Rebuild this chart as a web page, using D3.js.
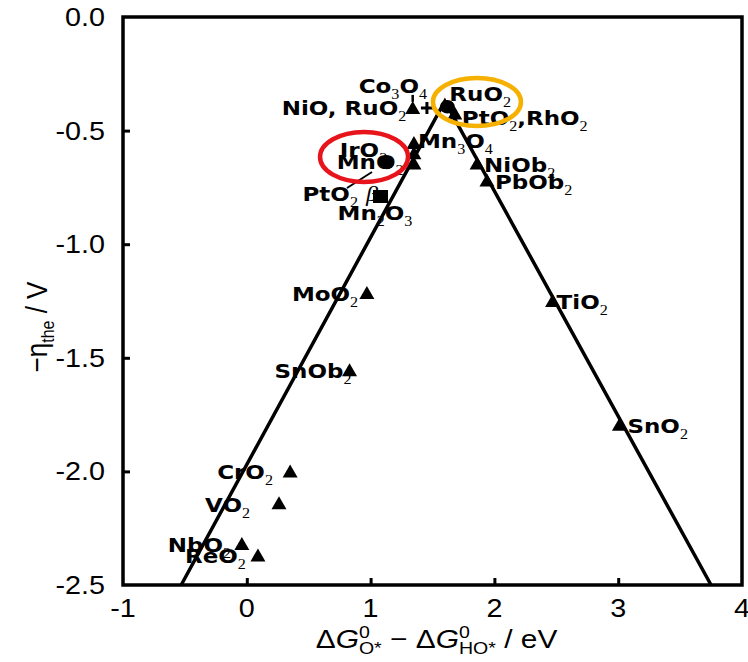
<!DOCTYPE html>
<html><head><meta charset="utf-8">
<script src="https://cdn.jsdelivr.net/npm/d3@7"></script>
<style>body{margin:0;background:#fff}svg{display:block}text{white-space:pre}</style>
</head><body>
<svg id="chart" width="748" height="662"></svg>
<script>
// ---------------- data ----------------
const xTicks = [-1, 0, 1, 2, 3, 4];
const xTickLabels = ["-1", "0", "1", "2", "3", "4"];
const yTicks = [0, -0.5, -1, -1.5, -2, -2.5];
const yTickLabels = ["0.0", "-0.5", "-1.0", "-1.5", "-2.0", "-2.5"];

const pointNames = ["NiO/Co3O4", "plus", "RuO2", "PtO2/RhO2", "Mn3O4 a", "Mn3O4 b", "Mn3O4 c",
  "MnO2/IrO2", "PtO2 beta", "NiOb2", "PbOb2", "MoO2", "SnOb2", "TiO2", "SnO2",
  "CrO2", "VO2", "NbO2", "ReO2"];
const pointX = [1.34, 1.455, 1.62, 1.68, 1.35, 1.35, 1.35, 1.13, 1.08, 1.86, 1.94, 0.97, 0.83, 2.47, 3.01, 0.35, 0.26, -0.04, 0.09];
const pointY = [-0.40, -0.40, -0.395, -0.425, -0.555, -0.60, -0.645, -0.64, -0.79, -0.645, -0.72, -1.215, -1.555, -1.25, -1.795, -2.0, -2.14, -2.32, -2.37];
const pointShape = ["tri", "plus", "circle", "tri", "tri", "tri", "tri", "circle", "square", "tri", "tri", "tri", "tri", "tri", "tri", "tri", "tri", "tri", "tri"];

// volcano lines
const volcanoX = [-0.53, 1.6, 3.75];
const volcanoY = [-2.5, -0.37, -2.5];

// labels (markup: _x = subscript char, ~x = greek italic char), tied to a point
const labelText = ["Co_3O_4", "NiO, RuO_2", "RuO_2", "PtO_2,RhO_2", "Mn_3O_4", "IrO_2", "MnO_2", "PtO_2 ~β", "Mn_2O_3",
  "NiOb_2", "PbOb_2", "MoO_2", "SnOb_2", "TiO_2", "SnO_2", "CrO_2", "VO_2", "NbO_2", "ReO_2"];
const labelPoint = [0, 0, 2, 3, 4, 7, 7, 8, 8, 9, 10, 11, 12, 13, 14, 15, 16, 17, 18];

// highlight ellipses (centres in data units)
const ellipseX = [0.947, 1.859];
const ellipseY = [-0.616, -0.374];

// ---------------- layout ----------------
const S = 1.15; // horizontal text stretch
const labelOffset = [[-54, -15], [-131, 7], [2, -6], [7, 11], [4, 5], [-47, -5], [-50, 7], [-78, 5], [-43, 24],
  [7, 8], [8, 8], [-75, 8], [-75, 8], [4, 8], [8, 8], [-73, 8], [-74, 9], [-74, 8], [-73, 8]];
const ellipseStyle = [{rx: 44, ry: 25, color: "#e8141b"}, {rx: 44, ry: 24, color: "#f5b000"}];
const leaderDefs = [{p: 0, a: [0, -13], b: [0, -6], w: 2.5}, {p: 8, a: [-33.5, -8.5], b: [-8.5, -24.5], w: 2}];

const svg = d3.select("#chart");
const x = d3.scaleLinear().domain([-1, 4]).range([123, 742]);
const y = d3.scaleLinear().domain([0, -2.5]).range([17, 585]);

// rich text helper
function rich(parent, x0, y0, runs, anchor, extra) {
  const outer = parent.append("g").attr("transform", `translate(${x0},${y0}) scale(${S},1)` + (extra || ""));
  const g = outer.append("g");
  let cx = 0;
  const put = r => {
    const t = g.append("text").attr("x", cx).attr("y", r.dy || 0)
      .attr("font-family", r.font).attr("font-size", r.size)
      .attr("font-weight", r.weight || "normal").attr("font-style", r.style || "normal")
      .attr("fill", "#000").text(r.t);
    return t.node().getComputedTextLength();
  };
  runs.forEach(r => {
    if (r.stack) {
      let w = 0;
      r.stack.forEach(s => { w = Math.max(w, put(s)); });
      cx += w;
    } else cx += put(r);
  });
  if (anchor === "middle") g.attr("transform", `translate(${-cx / 2},0)`);
  if (anchor === "end") g.attr("transform", `translate(${-cx},0)`);
  return outer;
}

function parseLabel(s) {
  const runs = [];
  let buf = "";
  const flush = () => { if (buf) { runs.push({t: buf, font: "DejaVu Sans", size: 20, weight: "bold"}); buf = ""; } };
  for (let i = 0; i < s.length; i++) {
    const c = s[i];
    if (c === "_") { flush(); runs.push({t: s[++i], font: "Liberation Serif", size: 14, dy: 6}); }
    else if (c === "~") { flush(); runs.push({t: s[++i], font: "Liberation Serif", size: 21, style: "italic"}); }
    else buf += c;
  }
  flush();
  return runs;
}

// frame
svg.append("rect").attr("x", x(-1)).attr("y", y(0)).attr("width", x(4) - x(-1)).attr("height", y(-2.5) - y(0))
  .attr("fill", "none").attr("stroke", "#000").attr("stroke-width", 3.5);

// axes ticks (inward)
const yAxis = d3.axisLeft(y).tickValues(yTicks.slice(1, -1)).tickSizeInner(-7).tickSizeOuter(0).tickFormat("");
const xAxis = d3.axisBottom(x).tickValues(xTicks.slice(1, -1)).tickSizeInner(-7).tickSizeOuter(0).tickFormat("");
const ga = svg.append("g").attr("transform", `translate(${x(-1)},0)`).call(yAxis);
const gb = svg.append("g").attr("transform", `translate(0,${y(-2.5)})`).call(xAxis);
[ga, gb].forEach(g => { g.select(".domain").remove(); g.selectAll(".tick line").attr("stroke", "#000").attr("stroke-width", 3); });

// tick labels
yTicks.forEach((v, i) => rich(svg, 105, y(v) + 9, [{t: yTickLabels[i], font: "Liberation Sans", size: 25}], "end"));
xTicks.forEach((v, i) => rich(svg, x(v), 617, [{t: xTickLabels[i], font: "Liberation Sans", size: 25}], "middle"));

// axis titles
const AF = "Liberation Sans";
rich(svg, (x(-1) + x(4)) / 2 + 4, 648, [
  {t: "Δ", font: AF, size: 26}, {t: "G", font: AF, size: 26, style: "italic"},
  {stack: [{t: "0", font: AF, size: 17, dy: -10}, {t: "O*", font: AF, size: 17, dy: 6}]},
  {t: " − ", font: AF, size: 26},
  {t: "Δ", font: AF, size: 26}, {t: "G", font: AF, size: 26, style: "italic"},
  {stack: [{t: "0", font: AF, size: 17, dy: -10}, {t: "HO*", font: AF, size: 17, dy: 6}]},
  {t: " / eV", font: AF, size: 26}
], "middle");

const yl = rich(svg, 47, 327, [
  {t: "−η", font: AF, size: 26}, {t: "the", font: AF, size: 16, dy: 6}, {t: " / V", font: AF, size: 26}
], "middle", " rotate(-90)");

// volcano lines
const line = d3.line().x(d => x(d[0])).y(d => y(d[1]));
svg.append("path").datum(volcanoX.map((v, i) => [v, volcanoY[i]]))
  .attr("d", line).attr("fill", "none").attr("stroke", "#000").attr("stroke-width", 3.5);

// leaders
leaderDefs.forEach(l => {
  const px = x(pointX[l.p]), py = y(pointY[l.p]);
  svg.append("line").attr("x1", px + l.a[0]).attr("y1", py + l.a[1]).attr("x2", px + l.b[0]).attr("y2", py + l.b[1])
    .attr("stroke", "#000").attr("stroke-width", l.w);
});

// labels
labelText.forEach((t, i) => {
  const p = labelPoint[i];
  rich(svg, x(pointX[p]) + labelOffset[i][0], y(pointY[p]) + labelOffset[i][1], parseLabel(t), "start");
});

// markers
const gm = svg.append("g");
pointX.forEach((v, i) => {
  const px = x(v), py = y(pointY[i]);
  const sh = pointShape[i];
  if (sh === "tri") gm.append("path").attr("d", `M${px},${py - 7} L${px + 7.5},${py + 6} L${px - 7.5},${py + 6} Z`).attr("fill", "#000");
  else if (sh === "circle") gm.append("ellipse").attr("cx", px).attr("cy", py).attr("rx", 7.5).attr("ry", 6.8).attr("fill", "#000");
  else if (sh === "square") gm.append("rect").attr("x", px - 7.5).attr("y", py - 6.5).attr("width", 15).attr("height", 13).attr("fill", "#000");
  else if (sh === "plus") gm.append("path").attr("d", `M${px - 6},${py} H${px + 6} M${px},${py - 6} V${py + 6}`).attr("stroke", "#000").attr("stroke-width", 3);
});

// highlight ellipses
ellipseX.forEach((v, i) => {
  svg.append("ellipse").attr("cx", x(v)).attr("cy", y(ellipseY[i]))
    .attr("rx", ellipseStyle[i].rx).attr("ry", ellipseStyle[i].ry)
    .attr("fill", "none").attr("stroke", ellipseStyle[i].color).attr("stroke-width", 4.5);
});
</script>
</body></html>
